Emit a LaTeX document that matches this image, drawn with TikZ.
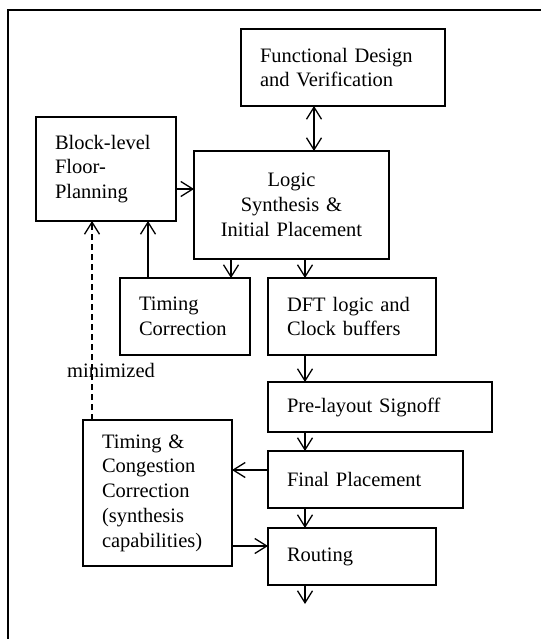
\documentclass[tikz,border=0pt]{standalone}
\usepackage{fontspec}
\setmainfont{Liberation Serif}
\usetikzlibrary{arrows.meta}

\begin{document}
\begin{tikzpicture}[x=1pt,y=-1pt,
    font=\fontsize{20.5}{24.7}\selectfont,
    box/.style={draw,line width=1.3pt,anchor=north west,outer sep=0pt,inner xsep=19pt,inner ysep=0pt,align=left},
    arr/.style={line width=1.3pt,-{Straight Barb[length=12pt,width=15pt]}},
    dbl/.style={line width=1.3pt,{Straight Barb[length=12pt,width=15pt]}-{Straight Barb[length=12pt,width=15pt]}}]
        \useasboundingbox (0,0) rectangle (541,639);
        \draw[line width=1.5pt] (8,639) -- (8,10) -- (541,10);
        % boxes
        \node[box,text width=166pt,minimum height=77pt] (fd) at (241,29) {Functional Design\\and Verification};
        \node[box,text width=102pt,minimum height=104pt] (bfp) at (36,117) {Block-level\\Floor-\\Planning};
        \node[box,text width=157pt,minimum height=108pt,align=center] (logic) at (194,151) {Logic\\Synthesis \&\\Initial Placement};
        \node[box,text width=92pt,minimum height=77pt] (tc) at (120,278) {Timing\\Correction};
        \node[box,text width=130pt,minimum height=77pt] (dft) at (268,278) {DFT logic and\\Clock buffers};
        \node[box,text width=186pt,minimum height=50pt] (pre) at (268,382) {Pre-layout Signoff};
        \node[box,text width=111pt,minimum height=146pt] (tcc) at (83,420) {Timing \&\\Congestion\\Correction\\(synthesis\\capabilities)};
        \node[box,text width=157pt,minimum height=57pt] (fp) at (268,451) {Final Placement};
        \node[box,text width=130pt,minimum height=57pt] (rt) at (268,528) {Routing};
        % columns and rows of the connectors
        \coordinate (c1) at (314,0);
        \coordinate (c2) at (305,0);
        \coordinate (c3) at (231,0);
        \coordinate (c4) at (148,0);
        \coordinate (c5) at (92,0);
        \coordinate (r1) at (0,189);
        \coordinate (r2) at (0,470);
        \coordinate (r3) at (0,546);
        \coordinate (out) at (305,604);
        % connectors
        \draw[dbl] (c1 |- fd.south) -- (c1 |- logic.north);
        \draw[arr] (bfp.east |- r1) -- (logic.west |- r1);
        \draw[arr] (c3 |- logic.south) -- (c3 |- tc.north);
        \draw[arr] (c2 |- logic.south) -- (c2 |- dft.north);
        \draw[arr] (c4 |- tc.north) -- (c4 |- bfp.south);
        \draw[arr] (c2 |- dft.south) -- (c2 |- pre.north);
        \draw[arr] (c2 |- pre.south) -- (c2 |- fp.north);
        \draw[arr] (fp.west |- r2) -- (tcc.east |- r2);
        \draw[arr] (c2 |- fp.south) -- (c2 |- rt.north);
        \draw[arr] (tcc.east |- r3) -- (rt.west |- r3);
        \draw[arr] (c2 |- rt.south) -- (out);
        \draw[arr,dash pattern=on 6pt off 4pt] (c5 |- tcc.north) -- (c5 |- bfp.south);
        \node[anchor=base] (min) at (111,377) {minimized};
\end{tikzpicture}
\end{document}
